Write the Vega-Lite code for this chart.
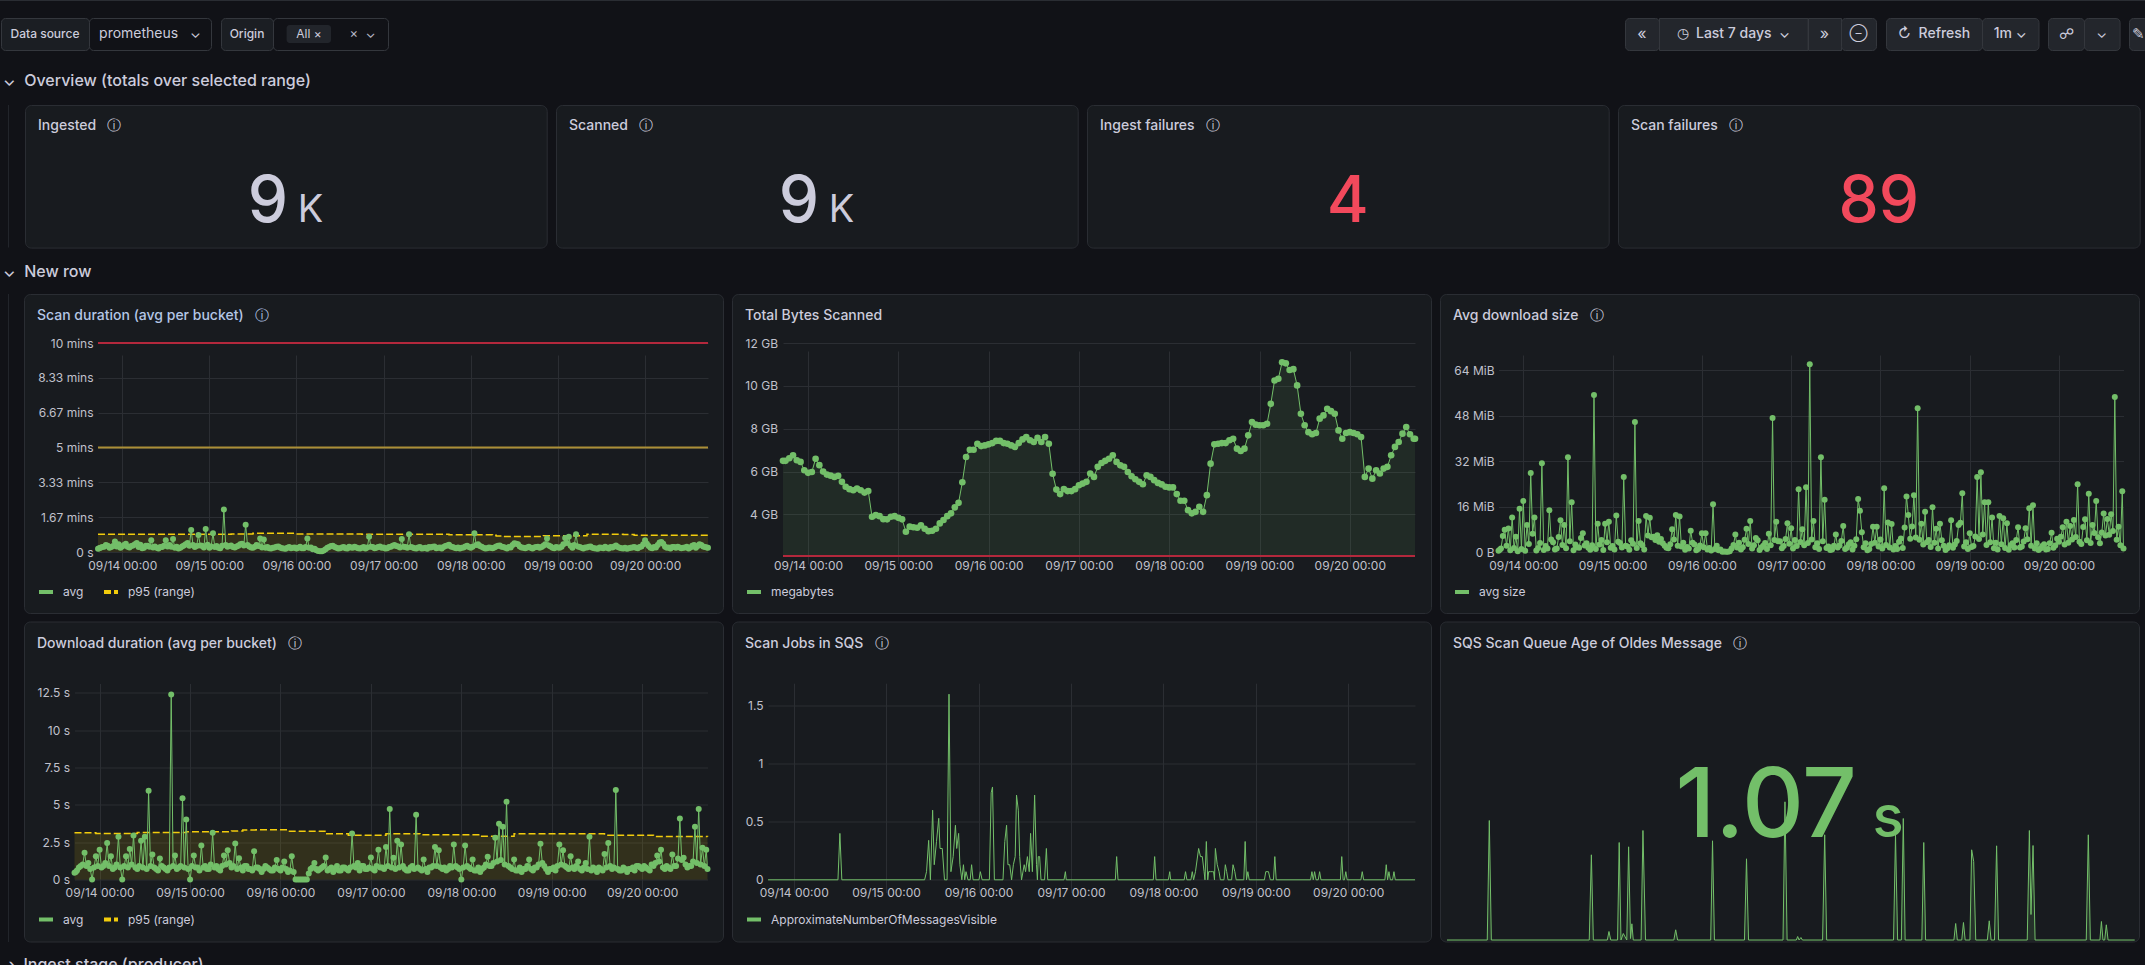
{
"$schema":"https://vega.github.io/schema/vega-lite/v5.json",
"background":"#111217",
"padding":0,
"config":{
"font":"Inter",
"view":{"fill":"#181b1f","stroke":"#2a2d33","cornerRadius":6},
"axis":{"domain":false,"ticks":false,"title":null,"labelColor":"#c0c1cc","labelFont":"Inter","labelFontSize":12,"gridColor":"#2b2e33","gridWidth":1,"labelOverlap":false,"labelFlush":false},
"legend":{"orient":"none","legendX":13,"legendY":289,"title":null,"direction":"horizontal","columns":2,"columnPadding":12,"symbolType":"stroke","symbolStrokeWidth":4,"symbolSize":196,"labelColor":"#ccccdc","labelFont":"Inter","labelFontSize":12,"labelOffset":8,"labelLimit":400},
"title":{"font":"Inter","fontSize":14,"fontWeight":500,"color":"#ccccdc","anchor":"start","frame":"group","baseline":"alphabetic","offset":-29,"dx":13},
"text":{"baseline":"middle","align":"center","font":"Inter"}
},
"datasets":{
"hourly":[
{"t":"2025-09-13T17:20Z","s":9,"d":0.45,"m":0.4,"b":6.5},{"t":"2025-09-13T17:40Z","s":11,"d":0.5,"m":0.8},
{"t":"2025-09-13T18:00Z","s":12,"d":0.6,"m":1.2,"b":6.5},{"t":"2025-09-13T18:30Z","s":14,"d":0.8,"m":5.6},
{"t":"2025-09-13T19:00Z","s":15,"d":0.9,"m":7.8,"b":6.62},{"t":"2025-09-13T19:30Z","s":20,"d":1,"m":2.2},
{"t":"2025-09-13T20:00Z","s":18,"d":1.8,"m":8.3,"b":6.76},{"t":"2025-09-13T20:30Z","s":12,"d":0.9,"m":0.6},
{"t":"2025-09-13T21:00Z","s":14,"d":1.1,"m":12.2,"b":6.53},{"t":"2025-09-13T21:30Z","s":17,"d":0.7,"m":1.4},
{"t":"2025-09-13T22:00Z","s":30,"d":0,"m":5.4,"b":6.45},{"t":"2025-09-13T22:30Z","s":16,"d":0.8,"m":0.3},
{"t":"2025-09-13T23:00Z","s":22,"d":1.56,"m":15.2,"b":6.06},{"t":"2025-09-13T23:30Z","s":12,"d":0.9,"m":1.1},
{"t":"2025-09-14T00:00Z","s":16,"d":2,"m":18,"b":5.94},{"t":"2025-09-14T00:30Z","s":20,"d":0.8,"m":0.4},
{"t":"2025-09-14T01:00Z","s":24,"d":0.9,"m":9.5,"b":5.98},{"t":"2025-09-14T01:30Z","s":15,"d":1.1,"m":2.8},
{"t":"2025-09-14T02:00Z","s":13,"d":2.45,"m":27.8,"b":6.6},{"t":"2025-09-14T02:30Z","s":17,"d":0.9,"m":6.4},
{"t":"2025-09-14T03:00Z","s":19,"d":1.56,"m":12.2,"b":6.3},{"t":"2025-09-14T03:30Z","s":22,"d":0.7,"m":0.5},
{"t":"2025-09-14T04:00Z","s":26,"d":0.8,"m":1.4,"b":6},{"t":"2025-09-14T04:30Z","s":14,"d":1,"m":3.2},
{"t":"2025-09-14T05:00Z","s":21,"d":2.86,"m":31.3,"b":5.86},{"t":"2025-09-14T05:30Z","s":11,"d":0.8,"m":0.7},
{"t":"2025-09-14T06:00Z","s":12,"d":0,"m":2.1,"b":5.81},{"t":"2025-09-14T06:30Z","s":18,"d":0.9,"m":1.2},
{"t":"2025-09-14T07:00Z","s":18,"d":1.56,"m":14.7,"b":5.75},{"t":"2025-09-14T07:30Z","s":15,"d":0.8,"m":4.4},
{"t":"2025-09-14T08:00Z","s":34,"d":2.05,"m":3.4,"b":5.8},{"t":"2025-09-14T08:30Z","s":13,"d":1,"m":0.9},
{"t":"2025-09-14T09:00Z","s":16,"d":2.95,"m":1.2,"b":5.52},{"t":"2025-09-14T09:30Z","s":12,"d":0.8,"m":5.3},
{"t":"2025-09-14T10:00Z","s":10,"d":0.7,"m":11.2,"b":5.29},{"t":"2025-09-14T10:30Z","s":14,"d":0.9,"m":2.5},
{"t":"2025-09-14T11:00Z","s":14,"d":2.6,"m":9.5,"b":5.18},{"t":"2025-09-14T11:30Z","s":18,"d":0.8,"m":1.3},
{"t":"2025-09-14T12:00Z","s":34,"d":2.86,"m":33.4,"b":5.13},{"t":"2025-09-14T12:30Z","s":16,"d":0.7,"m":3.8},
{"t":"2025-09-14T13:00Z","s":20,"d":5.94,"m":17.5,"b":5.21},{"t":"2025-09-14T13:30Z","s":15,"d":0.9,"m":0.6},
{"t":"2025-09-14T14:00Z","s":37,"d":1.67,"m":2.6,"b":5.13},{"t":"2025-09-14T14:30Z","s":12,"d":0.8,"m":1.7},
{"t":"2025-09-14T15:00Z","s":15,"d":0.7,"m":1.5,"b":5.02},{"t":"2025-09-14T15:30Z","s":10,"d":0.6,"m":4.9},
{"t":"2025-09-14T16:00Z","s":12,"d":1.4,"m":6.6,"b":5.09},{"t":"2025-09-14T16:30Z","s":16,"d":0.9,"m":2.3},
{"t":"2025-09-14T17:00Z","s":19,"d":0.8,"m":3.1,"b":3.89},{"t":"2025-09-14T17:30Z","s":22,"d":0.7,"m":1.5},
{"t":"2025-09-14T18:00Z","s":26,"d":0.6,"m":0.8,"b":3.97},{"t":"2025-09-14T18:30Z","s":18,"d":0.8,"m":2.4},
{"t":"2025-09-14T19:00Z","s":63,"d":12.4,"m":55.3,"b":3.92},{"t":"2025-09-14T19:30Z","s":20,"d":0.9,"m":1.1},
{"t":"2025-09-14T20:00Z","s":14,"d":1.6,"m":10,"b":3.78},{"t":"2025-09-14T20:30Z","s":17,"d":0.7,"m":2.6},
{"t":"2025-09-14T21:00Z","s":49,"d":0.8,"m":4.2,"b":3.77},{"t":"2025-09-14T21:30Z","s":19,"d":0.9,"m":0.7},
{"t":"2025-09-14T22:00Z","s":18,"d":5.45,"m":10,"b":3.89},{"t":"2025-09-14T22:30Z","s":13,"d":0.8,"m":3.4},
{"t":"2025-09-14T23:00Z","s":66,"d":4.02,"m":10.7,"b":3.92},{"t":"2025-09-14T23:30Z","s":21,"d":0.7,"m":1.5},
{"t":"2025-09-15T00:00Z","s":12,"d":0,"m":2.1,"b":3.84},{"t":"2025-09-15T00:30Z","s":16,"d":0.9,"m":0.9},
{"t":"2025-09-15T01:00Z","s":54,"d":1.6,"m":12.9,"b":3.77},{"t":"2025-09-15T01:30Z","s":14,"d":0.8,"m":3.6},
{"t":"2025-09-15T02:00Z","s":17,"d":0.8,"m":3.2,"b":3.19},{"t":"2025-09-15T02:30Z","s":12,"d":0.6,"m":1.6},
{"t":"2025-09-15T03:00Z","s":11,"d":2.28,"m":26.4,"b":3.43},{"t":"2025-09-15T03:30Z","s":18,"d":0.8,"m":2.2},
{"t":"2025-09-15T04:00Z","s":122,"d":0.9,"m":1.9,"b":3.4},{"t":"2025-09-15T04:30Z","s":20,"d":0.7,"m":0.8},
{"t":"2025-09-15T05:00Z","s":15,"d":0.7,"m":4.1,"b":3.38},{"t":"2025-09-15T05:30Z","s":17,"d":1,"m":2.9},
{"t":"2025-09-15T06:00Z","s":19,"d":3.13,"m":45.8,"b":3.49},{"t":"2025-09-15T06:30Z","s":14,"d":0.8,"m":1.4},
{"t":"2025-09-15T07:00Z","s":13,"d":0.9,"m":10.9,"b":3.33},{"t":"2025-09-15T07:30Z","s":16,"d":0.7,"m":3.1},
{"t":"2025-09-15T08:00Z","s":18,"d":0.6,"m":2.4,"b":3.22},{"t":"2025-09-15T08:30Z","s":22,"d":0.9,"m":0.9},
{"t":"2025-09-15T09:00Z","s":24,"d":1.6,"m":12.7,"b":3.24},{"t":"2025-09-15T09:30Z","s":19,"d":1,"m":5.8},
{"t":"2025-09-15T10:00Z","s":78,"d":1.96,"m":12.1,"b":3.33},{"t":"2025-09-15T10:30Z","s":20,"d":1.1,"m":5.2},
{"t":"2025-09-15T11:00Z","s":16,"d":0.8,"m":5.4,"b":3.58},{"t":"2025-09-15T11:30Z","s":13,"d":0.9,"m":4.2},
{"t":"2025-09-15T12:00Z","s":12,"d":2.41,"m":5.9,"b":3.74},{"t":"2025-09-15T12:30Z","s":15,"d":0.7,"m":3.6},
{"t":"2025-09-15T13:00Z","s":20,"d":1.43,"m":4.6,"b":3.92},{"t":"2025-09-15T13:30Z","s":17,"d":0.8,"m":3.1},
{"t":"2025-09-15T14:00Z","s":39,"d":0.6,"m":2.2,"b":4.05},{"t":"2025-09-15T14:30Z","s":13,"d":0.9,"m":1.5},
{"t":"2025-09-15T15:00Z","s":36,"d":0.9,"m":1.3,"b":4.33},{"t":"2025-09-15T15:30Z","s":12,"d":0.7,"m":2.7},
{"t":"2025-09-15T16:00Z","s":14,"d":0.7,"m":8,"b":4.54},{"t":"2025-09-15T16:30Z","s":11,"d":0.6,"m":4.4},
{"t":"2025-09-15T17:00Z","s":10,"d":1.9,"m":13,"b":5.5},{"t":"2025-09-15T17:30Z","s":12,"d":0.8,"m":2.2},
{"t":"2025-09-15T18:00Z","s":13,"d":0.8,"m":12.5,"b":6.68},{"t":"2025-09-15T18:30Z","s":15,"d":0.7,"m":1.9},
{"t":"2025-09-15T19:00Z","s":16,"d":0.5,"m":3.3,"b":7.02},{"t":"2025-09-15T19:30Z","s":13,"d":0.7,"m":0.8},
{"t":"2025-09-15T20:00Z","s":11,"d":0.9,"m":1.8,"b":7.02},{"t":"2025-09-15T20:30Z","s":10,"d":0.8,"m":1.2},
{"t":"2025-09-15T21:00Z","s":9,"d":0.7,"m":7.5,"b":7.3},{"t":"2025-09-15T21:30Z","s":12,"d":0.6,"m":3.3},
{"t":"2025-09-15T22:00Z","s":14,"d":0.6,"m":2.6,"b":7.19},{"t":"2025-09-15T22:30Z","s":11,"d":0.8,"m":0.6},
{"t":"2025-09-15T23:00Z","s":12,"d":1.3,"m":1.1,"b":7.22},{"t":"2025-09-15T23:30Z","s":13,"d":0.7,"m":2.3},
{"t":"2025-09-16T00:00Z","s":10,"d":0.6,"m":6.6,"b":7.27},{"t":"2025-09-16T00:30Z","s":12,"d":0.8,"m":1.7},
{"t":"2025-09-16T01:00Z","s":15,"d":1.2,"m":6.6,"b":7.33},{"t":"2025-09-16T01:30Z","s":11,"d":0.7,"m":0.9},
{"t":"2025-09-16T02:00Z","s":11,"d":0.5,"m":1.4,"b":7.43},{"t":"2025-09-16T02:30Z","s":14,"d":0.6,"m":0.5},
{"t":"2025-09-16T03:00Z","s":39,"d":1.56,"m":16.8,"b":7.43},{"t":"2025-09-16T03:30Z","s":12,"d":0.5,"m":1.1},
{"t":"2025-09-16T04:00Z","s":13,"d":0,"m":2.2,"b":7.33},{"t":"2025-09-16T04:30Z","s":8,"d":0,"m":0.6},
{"t":"2025-09-16T05:00Z","s":9,"d":0,"m":0.9,"b":7.3},{"t":"2025-09-16T05:30Z","s":5,"d":0,"m":0.1},
{"t":"2025-09-16T06:00Z","s":3,"d":0,"m":0.2,"b":7.22},{"t":"2025-09-16T06:30Z","s":2,"d":0,"m":0.1},
{"t":"2025-09-16T07:00Z","s":2,"d":0,"m":0.1,"b":7.15},{"t":"2025-09-16T07:30Z","s":4,"d":0.4,"m":0.3},
{"t":"2025-09-16T08:00Z","s":8,"d":0.7,"m":1.2,"b":7.33},{"t":"2025-09-16T08:30Z","s":12,"d":0.8,"m":2.5},
{"t":"2025-09-16T09:00Z","s":14,"d":1.1,"m":6.2,"b":7.5},{"t":"2025-09-16T09:30Z","s":17,"d":0.7,"m":1.6},
{"t":"2025-09-16T10:00Z","s":18,"d":0.6,"m":3.3,"b":7.61},{"t":"2025-09-16T10:30Z","s":14,"d":0.7,"m":0.9},
{"t":"2025-09-16T11:00Z","s":12,"d":0.8,"m":1.7,"b":7.46},{"t":"2025-09-16T11:30Z","s":10,"d":0.9,"m":4.3},
{"t":"2025-09-16T12:00Z","s":11,"d":1.47,"m":8.2,"b":7.38},{"t":"2025-09-16T12:30Z","s":13,"d":0.6,"m":2.8},
{"t":"2025-09-16T13:00Z","s":14,"d":0.7,"m":10.9,"b":7.57},{"t":"2025-09-16T13:30Z","s":11,"d":0.8,"m":1.2},
{"t":"2025-09-16T14:00Z","s":10,"d":0.5,"m":2.4,"b":7.38},{"t":"2025-09-16T14:30Z","s":15,"d":0.7,"m":4.9},
{"t":"2025-09-16T15:00Z","s":13,"d":0.9,"m":4.1,"b":7.61},{"t":"2025-09-16T15:30Z","s":12,"d":0.6,"m":0.7},
{"t":"2025-09-16T16:00Z","s":15,"d":0.6,"m":1.6,"b":7.3},{"t":"2025-09-16T16:30Z","s":13,"d":0.8,"m":2.2},
{"t":"2025-09-16T17:00Z","s":11,"d":0.8,"m":3.2,"b":5.9},{"t":"2025-09-16T17:30Z","s":10,"d":0.7,"m":1.1},
{"t":"2025-09-16T18:00Z","s":12,"d":0.6,"m":6.4,"b":5.16},{"t":"2025-09-16T18:30Z","s":14,"d":0.8,"m":2.4},
{"t":"2025-09-16T19:00Z","s":10,"d":3.08,"m":47.2,"b":4.95},{"t":"2025-09-16T19:30Z","s":13,"d":0.9,"m":4.2},
{"t":"2025-09-16T20:00Z","s":44,"d":0.8,"m":10.7,"b":5.18},{"t":"2025-09-16T20:30Z","s":15,"d":1.1,"m":3.8},
{"t":"2025-09-16T21:00Z","s":14,"d":0.6,"m":3.8,"b":5.09},{"t":"2025-09-16T21:30Z","s":11,"d":0.9,"m":1.3},
{"t":"2025-09-16T22:00Z","s":12,"d":0.9,"m":2.1,"b":5.09},{"t":"2025-09-16T22:30Z","s":14,"d":0.7,"m":4.6},
{"t":"2025-09-16T23:00Z","s":16,"d":0.7,"m":10.1,"b":5.18},{"t":"2025-09-16T23:30Z","s":12,"d":0.8,"m":2.9},
{"t":"2025-09-17T00:00Z","s":13,"d":1.47,"m":8.4,"b":5.36},{"t":"2025-09-17T00:30Z","s":10,"d":0.7,"m":1.2},
{"t":"2025-09-17T01:00Z","s":11,"d":0.6,"m":4.2,"b":5.44},{"t":"2025-09-17T01:30Z","s":14,"d":0.9,"m":2.1},
{"t":"2025-09-17T02:00Z","s":15,"d":2,"m":22.1,"b":5.52},{"t":"2025-09-17T02:30Z","s":18,"d":0.8,"m":3.5},
{"t":"2025-09-17T03:00Z","s":20,"d":0.8,"m":8,"b":5.91},{"t":"2025-09-17T03:30Z","s":17,"d":0.7,"m":2.4},
{"t":"2025-09-17T04:00Z","s":16,"d":2.17,"m":22.8,"b":5.75},{"t":"2025-09-17T04:30Z","s":13,"d":0.9,"m":3.2},
{"t":"2025-09-17T05:00Z","s":37,"d":4.73,"m":66.2,"b":6.22},{"t":"2025-09-17T05:30Z","s":15,"d":0.8,"m":4.4},
{"t":"2025-09-17T06:00Z","s":14,"d":1.45,"m":10.9,"b":6.4},{"t":"2025-09-17T06:30Z","s":12,"d":0.7,"m":1.7},
{"t":"2025-09-17T07:00Z","s":51,"d":2.6,"m":3.1,"b":6.5},{"t":"2025-09-17T07:30Z","s":14,"d":0.8,"m":1.1},
{"t":"2025-09-17T08:00Z","s":13,"d":2.34,"m":33.4,"b":6.6},{"t":"2025-09-17T08:30Z","s":11,"d":0.9,"m":3.8},
{"t":"2025-09-17T09:00Z","s":10,"d":0.7,"m":18.4,"b":6.76},{"t":"2025-09-17T09:30Z","s":13,"d":0.6,"m":1.4},
{"t":"2025-09-17T10:00Z","s":14,"d":0.6,"m":1.9,"b":6.45},{"t":"2025-09-17T10:30Z","s":10,"d":0.8,"m":0.7},
{"t":"2025-09-17T11:00Z","s":11,"d":0.9,"m":0.9,"b":6.29},{"t":"2025-09-17T11:30Z","s":12,"d":0.7,"m":2.2},
{"t":"2025-09-17T12:00Z","s":9,"d":4.33,"m":6.2,"b":6.22},{"t":"2025-09-17T12:30Z","s":14,"d":0.8,"m":1.6},
{"t":"2025-09-17T13:00Z","s":13,"d":0.7,"m":2.3,"b":5.98},{"t":"2025-09-17T13:30Z","s":15,"d":0.6,"m":3.9},
{"t":"2025-09-17T14:00Z","s":16,"d":1.34,"m":9.2,"b":5.78},{"t":"2025-09-17T14:30Z","s":11,"d":0.7,"m":1.1},
{"t":"2025-09-17T15:00Z","s":12,"d":0.5,"m":1.5,"b":5.64},{"t":"2025-09-17T15:30Z","s":13,"d":0.8,"m":2.7},
{"t":"2025-09-17T16:00Z","s":10,"d":0.8,"m":3.4,"b":5.52},{"t":"2025-09-17T16:30Z","s":14,"d":0.9,"m":0.9},
{"t":"2025-09-17T17:00Z","s":17,"d":2.17,"m":2.2,"b":5.41},{"t":"2025-09-17T17:30Z","s":19,"d":0.9,"m":4.5},
{"t":"2025-09-17T18:00Z","s":21,"d":1.96,"m":18.7,"b":5.83},{"t":"2025-09-17T18:30Z","s":16,"d":0.8,"m":14.5},
{"t":"2025-09-17T19:00Z","s":14,"d":0.7,"m":7,"b":5.75},{"t":"2025-09-17T19:30Z","s":12,"d":0.8,"m":1.7},
{"t":"2025-09-17T20:00Z","s":11,"d":0.6,"m":3.1,"b":5.6},{"t":"2025-09-17T20:30Z","s":13,"d":0.7,"m":0.6},
{"t":"2025-09-17T21:00Z","s":10,"d":0.9,"m":1.1,"b":5.47},{"t":"2025-09-17T21:30Z","s":12,"d":0.8,"m":2.8},
{"t":"2025-09-17T22:00Z","s":13,"d":2.34,"m":8.9,"b":5.4},{"t":"2025-09-17T22:30Z","s":16,"d":0.9,"m":3.3},
{"t":"2025-09-17T23:00Z","s":18,"d":0.8,"m":8.9,"b":5.29},{"t":"2025-09-17T23:30Z","s":14,"d":0.7,"m":1.9},
{"t":"2025-09-18T00:00Z","s":12,"d":0,"m":4.4,"b":5.26},{"t":"2025-09-18T00:30Z","s":15,"d":0.8,"m":1.2},
{"t":"2025-09-18T01:00Z","s":54,"d":2.28,"m":22.5,"b":5.26},{"t":"2025-09-18T01:30Z","s":20,"d":0.9,"m":2.5},
{"t":"2025-09-18T02:00Z","s":22,"d":0.8,"m":10.4,"b":4.95},{"t":"2025-09-18T02:30Z","s":17,"d":0.7,"m":1.6},
{"t":"2025-09-18T03:00Z","s":15,"d":1.34,"m":9.9,"b":4.64},{"t":"2025-09-18T03:30Z","s":12,"d":0.6,"m":0.9},
{"t":"2025-09-18T04:00Z","s":10,"d":0.6,"m":2.1,"b":4.64},{"t":"2025-09-18T04:30Z","s":11,"d":0.8,"m":1.1},
{"t":"2025-09-18T05:00Z","s":13,"d":0.5,"m":3.6,"b":4.2},{"t":"2025-09-18T05:30Z","s":12,"d":0.7,"m":4.8},
{"t":"2025-09-18T06:00Z","s":11,"d":0.8,"m":1.4,"b":4.05},{"t":"2025-09-18T06:30Z","s":13,"d":1,"m":8.6},
{"t":"2025-09-18T07:00Z","s":16,"d":1.52,"m":19.6,"b":4.12},{"t":"2025-09-18T07:30Z","s":18,"d":0.9,"m":13},
{"t":"2025-09-18T08:00Z","s":19,"d":0.9,"m":4.7,"b":4.36},{"t":"2025-09-18T08:30Z","s":15,"d":1.1,"m":9},
{"t":"2025-09-18T09:00Z","s":14,"d":2.8,"m":20,"b":4.12},{"t":"2025-09-18T09:30Z","s":12,"d":1.2,"m":5.1},
{"t":"2025-09-18T10:00Z","s":10,"d":3.73,"m":50.7,"b":4.9},{"t":"2025-09-18T10:30Z","s":14,"d":1.3,"m":4.3},
{"t":"2025-09-18T11:00Z","s":13,"d":3.53,"m":10,"b":6.37},{"t":"2025-09-18T11:30Z","s":20,"d":1,"m":2.6},
{"t":"2025-09-18T12:00Z","s":25,"d":5.2,"m":14.2,"b":7.27},{"t":"2025-09-18T12:30Z","s":24,"d":0.9,"m":3.4},
{"t":"2025-09-18T13:00Z","s":22,"d":0.8,"m":4.2,"b":7.3},{"t":"2025-09-18T13:30Z","s":16,"d":0.7,"m":1.8},
{"t":"2025-09-18T14:00Z","s":13,"d":1.34,"m":15.8,"b":7.33},{"t":"2025-09-18T14:30Z","s":12,"d":0.6,"m":3.3},
{"t":"2025-09-18T15:00Z","s":11,"d":0.6,"m":8.2,"b":7.33},{"t":"2025-09-18T15:30Z","s":13,"d":0.8,"m":1.2},
{"t":"2025-09-18T16:00Z","s":15,"d":0.5,"m":10,"b":7.46},{"t":"2025-09-18T16:30Z","s":12,"d":0.7,"m":4.1},
{"t":"2025-09-18T17:00Z","s":10,"d":0.7,"m":2.2,"b":7.53},{"t":"2025-09-18T17:30Z","s":13,"d":0.9,"m":0.7},
{"t":"2025-09-18T18:00Z","s":14,"d":1.34,"m":1.3,"b":7.07},{"t":"2025-09-18T18:30Z","s":15,"d":0.7,"m":2.4},
{"t":"2025-09-18T19:00Z","s":12,"d":0.6,"m":11.2,"b":6.96},{"t":"2025-09-18T19:30Z","s":14,"d":0.8,"m":1.5},
{"t":"2025-09-18T20:00Z","s":18,"d":0.8,"m":2.6,"b":7.07},{"t":"2025-09-18T20:30Z","s":22,"d":1,"m":3.9},
{"t":"2025-09-18T21:00Z","s":39,"d":2.39,"m":9.5,"b":7.69},{"t":"2025-09-18T21:30Z","s":19,"d":1.1,"m":10.3},
{"t":"2025-09-18T22:00Z","s":16,"d":0.9,"m":20.7,"b":8.31},{"t":"2025-09-18T22:30Z","s":12,"d":0.7,"m":1.9},
{"t":"2025-09-18T23:00Z","s":11,"d":0.5,"m":3.4,"b":8.19},{"t":"2025-09-18T23:30Z","s":14,"d":0.7,"m":1.1},
{"t":"2025-09-19T00:00Z","s":13,"d":0.7,"m":6.6,"b":8.16},{"t":"2025-09-19T00:30Z","s":12,"d":0.8,"m":1.8},
{"t":"2025-09-19T01:00Z","s":15,"d":0.6,"m":2.1,"b":8.16},{"t":"2025-09-19T01:30Z","s":22,"d":0.9,"m":5.5},
{"t":"2025-09-19T02:00Z","s":40,"d":2.34,"m":26.4,"b":8.23},{"t":"2025-09-19T02:30Z","s":26,"d":1,"m":4.6},
{"t":"2025-09-19T03:00Z","s":44,"d":1.96,"m":28.1,"b":9.16},{"t":"2025-09-19T03:30Z","s":18,"d":0.9,"m":6.2},
{"t":"2025-09-19T04:00Z","s":12,"d":0.8,"m":17.5,"b":10.25},{"t":"2025-09-19T04:30Z","s":20,"d":0.7,"m":2.5},
{"t":"2025-09-19T05:00Z","s":51,"d":1.56,"m":17.5,"b":10.33},{"t":"2025-09-19T05:30Z","s":16,"d":0.8,"m":3.4},
{"t":"2025-09-19T06:00Z","s":14,"d":0.7,"m":12.2,"b":11.1},{"t":"2025-09-19T06:30Z","s":12,"d":0.9,"m":1.3},
{"t":"2025-09-19T07:00Z","s":10,"d":1.2,"m":3.3,"b":11.05},{"t":"2025-09-19T07:30Z","s":13,"d":0.7,"m":0.9},
{"t":"2025-09-19T08:00Z","s":13,"d":0.6,"m":12.7,"b":10.74},{"t":"2025-09-19T08:30Z","s":15,"d":0.8,"m":2.7},
{"t":"2025-09-19T09:00Z","s":16,"d":1.1,"m":11.9,"b":10.78},{"t":"2025-09-19T09:30Z","s":12,"d":0.7,"m":1.4},
{"t":"2025-09-19T10:00Z","s":11,"d":2.86,"m":10.1,"b":10.02},{"t":"2025-09-19T10:30Z","s":10,"d":0.6,"m":0.8},
{"t":"2025-09-19T11:00Z","s":9,"d":0.8,"m":2.4,"b":8.7},{"t":"2025-09-19T11:30Z","s":13,"d":0.7,"m":3.1},
{"t":"2025-09-19T12:00Z","s":12,"d":0.5,"m":1.6,"b":8.16},{"t":"2025-09-19T12:30Z","s":11,"d":0.8,"m":4.2},
{"t":"2025-09-19T13:00Z","s":15,"d":0.7,"m":8.7,"b":7.84},{"t":"2025-09-19T13:30Z","s":12,"d":0.6,"m":1.6},
{"t":"2025-09-19T14:00Z","s":10,"d":1.7,"m":1.9,"b":7.74},{"t":"2025-09-19T14:30Z","s":14,"d":0.8,"m":3.7},
{"t":"2025-09-19T15:00Z","s":13,"d":2.45,"m":8.4,"b":7.8},{"t":"2025-09-19T15:30Z","s":16,"d":0.9,"m":4.5},
{"t":"2025-09-19T16:00Z","s":19,"d":0.7,"m":15.4,"b":8.47},{"t":"2025-09-19T16:30Z","s":14,"d":0.8,"m":2.2},
{"t":"2025-09-19T17:00Z","s":12,"d":6,"m":16.5,"b":8.62},{"t":"2025-09-19T17:30Z","s":11,"d":0.7,"m":1.2},
{"t":"2025-09-19T18:00Z","s":10,"d":0.6,"m":3.1,"b":8.93},{"t":"2025-09-19T18:30Z","s":12,"d":0.6,"m":0.7},
{"t":"2025-09-19T19:00Z","s":9,"d":0.8,"m":1.2,"b":8.82},{"t":"2025-09-19T19:30Z","s":11,"d":0.7,"m":2.1},
{"t":"2025-09-19T20:00Z","s":12,"d":0.5,"m":2.7,"b":8.7},{"t":"2025-09-19T20:30Z","s":13,"d":0.7,"m":0.9},
{"t":"2025-09-19T21:00Z","s":14,"d":0.7,"m":1.1,"b":7.92},{"t":"2025-09-19T21:30Z","s":12,"d":0.8,"m":3.1},
{"t":"2025-09-19T22:00Z","s":11,"d":0.6,"m":6.8,"b":7.53},{"t":"2025-09-19T22:30Z","s":14,"d":0.9,"m":1.5},
{"t":"2025-09-19T23:00Z","s":16,"d":0.9,"m":2.3,"b":7.8},{"t":"2025-09-19T23:30Z","s":22,"d":0.8,"m":4.7},
{"t":"2025-09-20T00:00Z","s":34,"d":0.7,"m":3.6,"b":7.84},{"t":"2025-09-20T00:30Z","s":24,"d":0.9,"m":5.4},
{"t":"2025-09-20T01:00Z","s":17,"d":0.8,"m":8.7,"b":7.8},{"t":"2025-09-20T01:30Z","s":12,"d":0.7,"m":2.6},
{"t":"2025-09-20T02:00Z","s":11,"d":0.6,"m":10.7,"b":7.74},{"t":"2025-09-20T02:30Z","s":14,"d":1,"m":3.3},
{"t":"2025-09-20T03:00Z","s":13,"d":0.9,"m":9.2,"b":7.61},{"t":"2025-09-20T03:30Z","s":20,"d":1.1,"m":4.4},
{"t":"2025-09-20T04:00Z","s":27,"d":1.6,"m":11.3,"b":5.75},{"t":"2025-09-20T04:30Z","s":29,"d":1.2,"m":5.3},
{"t":"2025-09-20T05:00Z","s":24,"d":2,"m":23.9,"b":6.14},{"t":"2025-09-20T05:30Z","s":15,"d":0.8,"m":3.6},
{"t":"2025-09-20T06:00Z","s":12,"d":0.7,"m":2.8,"b":5.67},{"t":"2025-09-20T06:30Z","s":13,"d":0.9,"m":8.8},
{"t":"2025-09-20T07:00Z","s":10,"d":0.8,"m":11.5,"b":6.06},{"t":"2025-09-20T07:30Z","s":14,"d":0.7,"m":4.1},
{"t":"2025-09-20T08:00Z","s":14,"d":1.67,"m":20.5,"b":5.91},{"t":"2025-09-20T08:30Z","s":12,"d":0.9,"m":3.2},
{"t":"2025-09-20T09:00Z","s":15,"d":0.9,"m":9.5,"b":6.14},{"t":"2025-09-20T09:30Z","s":13,"d":1.4,"m":6.7},
{"t":"2025-09-20T10:00Z","s":11,"d":4.08,"m":18,"b":6.22},{"t":"2025-09-20T10:30Z","s":12,"d":1.3,"m":5.2},
{"t":"2025-09-20T11:00Z","s":13,"d":1.45,"m":3.1,"b":6.76},{"t":"2025-09-20T11:30Z","s":15,"d":1,"m":6.9},
{"t":"2025-09-20T12:00Z","s":10,"d":0.8,"m":13.6,"b":7.15},{"t":"2025-09-20T12:30Z","s":13,"d":0.9,"m":5.8},
{"t":"2025-09-20T13:00Z","s":18,"d":0.9,"m":11.6,"b":7.38},{"t":"2025-09-20T13:30Z","s":20,"d":1.2,"m":6.1},
{"t":"2025-09-20T14:00Z","s":12,"d":3.53,"m":13.3,"b":7.77},{"t":"2025-09-20T14:30Z","s":17,"d":1.1,"m":7.4},
{"t":"2025-09-20T15:00Z","s":22,"d":4.73,"m":54.6,"b":8.08},{"t":"2025-09-20T15:30Z","s":20,"d":1,"m":4.3},
{"t":"2025-09-20T16:00Z","s":16,"d":2.12,"m":8.9,"b":7.74},{"t":"2025-09-20T16:30Z","s":14,"d":0.9,"m":2.4},
{"t":"2025-09-20T17:00Z","s":13,"d":2,"m":21.4,"b":7.53},
{"t":"2025-09-20T17:20Z","s":12,"d":0.7,"m":1.2,"b":7.53}
],
"scanP95":[
{"t":"2025-09-13T17:20Z","v":50.7},{"t":"2025-09-15T06:00Z","v":52},{"t":"2025-09-15T12:00Z","v":53.5},{"t":"2025-09-16T00:00Z","v":52},{"t":"2025-09-16T18:00Z","v":51},{"t":"2025-09-17T12:00Z","v":50.7},{"t":"2025-09-17T18:00Z","v":49.7},{"t":"2025-09-18T06:00Z","v":48},{"t":"2025-09-18T07:00Z","v":46},{"t":"2025-09-18T09:00Z","v":44.5},{"t":"2025-09-18T20:00Z","v":47},{"t":"2025-09-19T08:00Z","v":50.7},{"t":"2025-09-19T18:00Z","v":50},{"t":"2025-09-19T21:00Z","v":48},{"t":"2025-09-20T17:20Z","v":47}
],
"downloadP95":[
{"t":"2025-09-13T17:20Z","v":3.13},{"t":"2025-09-13T23:00Z","v":3.08},{"t":"2025-09-14T10:00Z","v":3.15},{"t":"2025-09-14T23:00Z","v":3.2},{"t":"2025-09-15T11:00Z","v":3.25},{"t":"2025-09-15T14:00Z","v":3.31},{"t":"2025-09-15T17:30Z","v":3.33},{"t":"2025-09-16T02:00Z","v":3.24},{"t":"2025-09-16T12:00Z","v":3.06},{"t":"2025-09-16T18:00Z","v":2.97},{"t":"2025-09-17T04:00Z","v":3.06},{"t":"2025-09-17T13:00Z","v":3},{"t":"2025-09-18T05:00Z","v":2.9},{"t":"2025-09-18T14:00Z","v":3.06},{"t":"2025-09-19T02:00Z","v":3.06},{"t":"2025-09-19T14:00Z","v":2.97},{"t":"2025-09-20T03:00Z","v":2.88},{"t":"2025-09-20T17:20Z","v":2.86}
],
"scanLimits":[
{"from":"2025-09-13T17:20Z","to":"2025-09-20T17:20Z","limit":600,"kind":"critical"},
{"from":"2025-09-13T17:20Z","to":"2025-09-20T17:20Z","limit":300,"kind":"warning"}
],
"bytesLimit":[{"from":"2025-09-13T17:20Z","to":"2025-09-20T17:20Z","limit":2.06}],
"jobs":[
{"t":"2025-09-13T17:20Z","v":0},{"t":"2025-09-14T11:30Z","v":0},{"t":"2025-09-14T12:00Z","v":0.4},{"t":"2025-09-14T12:30Z","v":0},{"t":"2025-09-15T10:00Z","v":0},{"t":"2025-09-15T10:30Z","v":0.07},{"t":"2025-09-15T11:03Z","v":0.34},{"t":"2025-09-15T11:30Z","v":0},{"t":"2025-09-15T12:05Z","v":0.6},{"t":"2025-09-15T12:30Z","v":0.13},{"t":"2025-09-15T13:05Z","v":0.33},{"t":"2025-09-15T13:40Z","v":0.53},{"t":"2025-09-15T14:00Z","v":0.27},{"t":"2025-09-15T14:35Z","v":0.27},{"t":"2025-09-15T15:10Z","v":0},{"t":"2025-09-15T15:50Z","v":0},{"t":"2025-09-15T16:20Z","v":1.6},{"t":"2025-09-15T16:50Z","v":0.07},{"t":"2025-09-15T17:25Z","v":0.2},{"t":"2025-09-15T18:00Z","v":0.47},{"t":"2025-09-15T18:20Z","v":0.27},{"t":"2025-09-15T18:50Z","v":0.4},{"t":"2025-09-15T19:10Z","v":0.13},{"t":"2025-09-15T19:40Z","v":0},{"t":"2025-09-15T20:05Z","v":0.13},{"t":"2025-09-15T20:25Z","v":0},{"t":"2025-09-15T20:45Z","v":0.07},{"t":"2025-09-15T21:15Z","v":0},{"t":"2025-09-15T21:50Z","v":0},{"t":"2025-09-15T22:12Z","v":0.13},{"t":"2025-09-15T22:35Z","v":0},{"t":"2025-09-16T00:07Z","v":0},{"t":"2025-09-16T00:28Z","v":0.07},{"t":"2025-09-16T00:56Z","v":0},{"t":"2025-09-16T02:49Z","v":0},{"t":"2025-09-16T03:17Z","v":0.75},{"t":"2025-09-16T03:38Z","v":0.8},{"t":"2025-09-16T04:07Z","v":0},{"t":"2025-09-16T06:21Z","v":0},{"t":"2025-09-16T06:49Z","v":0.33},{"t":"2025-09-16T07:17Z","v":0.47},{"t":"2025-09-16T07:38Z","v":0.13},{"t":"2025-09-16T08:06Z","v":0.13},{"t":"2025-09-16T08:35Z","v":0},{"t":"2025-09-16T09:03Z","v":0.13},{"t":"2025-09-16T09:31Z","v":0.2},{"t":"2025-09-16T09:52Z","v":0.73},{"t":"2025-09-16T10:20Z","v":0.6},{"t":"2025-09-16T10:41Z","v":0.2},{"t":"2025-09-16T11:10Z","v":0},{"t":"2025-09-16T11:52Z","v":0.13},{"t":"2025-09-16T12:13Z","v":0.07},{"t":"2025-09-16T12:41Z","v":0.2},{"t":"2025-09-16T13:10Z","v":0.07},{"t":"2025-09-16T13:31Z","v":0.4},{"t":"2025-09-16T13:59Z","v":0.07},{"t":"2025-09-16T14:34Z","v":0.73},{"t":"2025-09-16T15:03Z","v":0.13},{"t":"2025-09-16T15:17Z","v":0},{"t":"2025-09-16T15:31Z","v":0.2},{"t":"2025-09-16T15:52Z","v":0.2},{"t":"2025-09-16T16:13Z","v":0},{"t":"2025-09-16T17:09Z","v":0},{"t":"2025-09-16T17:37Z","v":0.27},{"t":"2025-09-16T17:58Z","v":0},{"t":"2025-09-16T22:12Z","v":0},{"t":"2025-09-16T22:33Z","v":0.07},{"t":"2025-09-16T22:47Z","v":0},{"t":"2025-09-17T11:31Z","v":0},{"t":"2025-09-17T11:52Z","v":0.2},{"t":"2025-09-17T12:13Z","v":0},{"t":"2025-09-17T21:23Z","v":0},{"t":"2025-09-17T21:44Z","v":0.2},{"t":"2025-09-17T22:05Z","v":0},{"t":"2025-09-18T01:18Z","v":0},{"t":"2025-09-18T01:39Z","v":0.07},{"t":"2025-09-18T01:53Z","v":0},{"t":"2025-09-18T05:24Z","v":0},{"t":"2025-09-18T05:45Z","v":0.07},{"t":"2025-09-18T06:06Z","v":0},{"t":"2025-09-18T07:09Z","v":0},{"t":"2025-09-18T07:30Z","v":0.07},{"t":"2025-09-18T07:51Z","v":0},{"t":"2025-09-18T08:20Z","v":0.07},{"t":"2025-09-18T09:09Z","v":0.27},{"t":"2025-09-18T09:38Z","v":0.2},{"t":"2025-09-18T10:06Z","v":0.2},{"t":"2025-09-18T10:34Z","v":0.07},{"t":"2025-09-18T10:48Z","v":0},{"t":"2025-09-18T11:09Z","v":0.33},{"t":"2025-09-18T11:31Z","v":0},{"t":"2025-09-18T11:45Z","v":0.07},{"t":"2025-09-18T12:13Z","v":0.07},{"t":"2025-09-18T12:41Z","v":0.07},{"t":"2025-09-18T13:02Z","v":0.07},{"t":"2025-09-18T13:16Z","v":0},{"t":"2025-09-18T13:30Z","v":0.27},{"t":"2025-09-18T13:59Z","v":0.13},{"t":"2025-09-18T14:27Z","v":0.07},{"t":"2025-09-18T14:48Z","v":0},{"t":"2025-09-18T15:44Z","v":0},{"t":"2025-09-18T16:05Z","v":0.13},{"t":"2025-09-18T16:26Z","v":0.07},{"t":"2025-09-18T16:47Z","v":0},{"t":"2025-09-18T17:43Z","v":0},{"t":"2025-09-18T18:05Z","v":0.13},{"t":"2025-09-18T18:33Z","v":0.07},{"t":"2025-09-18T18:54Z","v":0},{"t":"2025-09-18T20:53Z","v":0},{"t":"2025-09-18T21:14Z","v":0.33},{"t":"2025-09-18T21:35Z","v":0},{"t":"2025-09-18T21:56Z","v":0.07},{"t":"2025-09-18T22:17Z","v":0},{"t":"2025-09-19T02:14Z","v":0},{"t":"2025-09-19T02:35Z","v":0.07},{"t":"2025-09-19T03:17Z","v":0.07},{"t":"2025-09-19T03:46Z","v":0},{"t":"2025-09-19T04:35Z","v":0},{"t":"2025-09-19T04:56Z","v":0.2},{"t":"2025-09-19T05:17Z","v":0},{"t":"2025-09-19T14:13Z","v":0},{"t":"2025-09-19T14:34Z","v":0.07},{"t":"2025-09-19T14:55Z","v":0},{"t":"2025-09-19T15:16Z","v":0.07},{"t":"2025-09-19T15:38Z","v":0},{"t":"2025-09-19T16:13Z","v":0},{"t":"2025-09-19T16:34Z","v":0.07},{"t":"2025-09-19T16:55Z","v":0},{"t":"2025-09-19T21:58Z","v":0},{"t":"2025-09-19T22:19Z","v":0.2},{"t":"2025-09-19T22:40Z","v":0},{"t":"2025-09-19T23:01Z","v":0},{"t":"2025-09-19T23:22Z","v":0.07},{"t":"2025-09-19T23:43Z","v":0},{"t":"2025-09-20T03:17Z","v":0},{"t":"2025-09-20T03:38Z","v":0.07},{"t":"2025-09-20T04:00Z","v":0},{"t":"2025-09-20T09:31Z","v":0},{"t":"2025-09-20T09:52Z","v":0.13},{"t":"2025-09-20T10:13Z","v":0},{"t":"2025-09-20T10:34Z","v":0.07},{"t":"2025-09-20T10:56Z","v":0},{"t":"2025-09-20T11:31Z","v":0},{"t":"2025-09-20T11:52Z","v":0.07},{"t":"2025-09-20T12:13Z","v":0},{"t":"2025-09-20T17:20Z","v":0}
],
"queueAge":[
{"t":"2025-09-13T17:20Z","v":0.5},{"t":"2025-09-14T03:10Z","v":0.5},{"t":"2025-09-14T03:40Z","v":120},{"t":"2025-09-14T04:10Z","v":0.5},{"t":"2025-09-15T04:05Z","v":0.5},{"t":"2025-09-15T04:36Z","v":85.7},{"t":"2025-09-15T05:05Z","v":0.5},{"t":"2025-09-15T08:30Z","v":0.5},{"t":"2025-09-15T08:54Z","v":9},{"t":"2025-09-15T09:20Z","v":0.5},{"t":"2025-09-15T11:00Z","v":0.5},{"t":"2025-09-15T11:24Z","v":98},{"t":"2025-09-15T11:50Z","v":0.5},{"t":"2025-09-15T12:24Z","v":7},{"t":"2025-09-15T13:15Z","v":0.5},{"t":"2025-09-15T13:42Z","v":93.7},{"t":"2025-09-15T14:10Z","v":2},{"t":"2025-09-15T14:30Z","v":16.7},{"t":"2025-09-15T14:50Z","v":0.5},{"t":"2025-09-15T16:45Z","v":0.5},{"t":"2025-09-15T17:12Z","v":110},{"t":"2025-09-15T17:50Z","v":0.5},{"t":"2025-09-16T00:45Z","v":0.5},{"t":"2025-09-16T01:12Z","v":10.7},{"t":"2025-09-16T01:40Z","v":0.5},{"t":"2025-09-16T09:45Z","v":0.5},{"t":"2025-09-16T10:12Z","v":99.7},{"t":"2025-09-16T10:40Z","v":0.5},{"t":"2025-09-16T18:00Z","v":0.5},{"t":"2025-09-16T18:30Z","v":81.7},{"t":"2025-09-16T19:00Z","v":0.5},{"t":"2025-09-17T03:25Z","v":0.5},{"t":"2025-09-17T03:54Z","v":138.7},{"t":"2025-09-17T04:25Z","v":0.5},{"t":"2025-09-17T06:40Z","v":0.5},{"t":"2025-09-17T07:00Z","v":4},{"t":"2025-09-17T07:20Z","v":0.5},{"t":"2025-09-17T07:48Z","v":3},{"t":"2025-09-17T08:10Z","v":0.5},{"t":"2025-09-17T13:05Z","v":0.5},{"t":"2025-09-17T13:36Z","v":105.7},{"t":"2025-09-17T14:05Z","v":0.5},{"t":"2025-09-18T06:25Z","v":0.5},{"t":"2025-09-18T06:54Z","v":105.7},{"t":"2025-09-18T07:25Z","v":0.5},{"t":"2025-09-18T08:20Z","v":0.5},{"t":"2025-09-18T08:48Z","v":122},{"t":"2025-09-18T09:15Z","v":0.5},{"t":"2025-09-18T13:20Z","v":0.5},{"t":"2025-09-18T13:48Z","v":98},{"t":"2025-09-18T14:15Z","v":0.5},{"t":"2025-09-18T21:10Z","v":0.5},{"t":"2025-09-18T21:36Z","v":17},{"t":"2025-09-18T22:00Z","v":0.5},{"t":"2025-09-18T23:05Z","v":0.5},{"t":"2025-09-18T23:30Z","v":18},{"t":"2025-09-18T23:55Z","v":0.5},{"t":"2025-09-19T01:05Z","v":0.5},{"t":"2025-09-19T01:30Z","v":90.7},{"t":"2025-09-19T02:00Z","v":79},{"t":"2025-09-19T02:30Z","v":0.5},{"t":"2025-09-19T05:20Z","v":0.5},{"t":"2025-09-19T05:48Z","v":19.7},{"t":"2025-09-19T06:15Z","v":0.5},{"t":"2025-09-19T07:05Z","v":0.5},{"t":"2025-09-19T07:36Z","v":94.7},{"t":"2025-09-19T08:05Z","v":0.5},{"t":"2025-09-19T15:05Z","v":0.5},{"t":"2025-09-19T15:36Z","v":110},{"t":"2025-09-19T16:00Z","v":26},{"t":"2025-09-19T16:30Z","v":95},{"t":"2025-09-19T17:00Z","v":0.5},{"t":"2025-09-20T05:30Z","v":0.5},{"t":"2025-09-20T06:00Z","v":105.7},{"t":"2025-09-20T06:30Z","v":0.5},{"t":"2025-09-20T08:50Z","v":0.5},{"t":"2025-09-20T09:12Z","v":19},{"t":"2025-09-20T09:35Z","v":0.5},{"t":"2025-09-20T10:00Z","v":0.5},{"t":"2025-09-20T10:24Z","v":15.7},{"t":"2025-09-20T10:50Z","v":0.5},{"t":"2025-09-20T17:20Z","v":0.5}
]
},
"resolve":{"scale":{"color":"independent","strokeDash":"independent"},"legend":{"color":"independent","strokeDash":"independent"}},
"vconcat":[
{"width":2145,"height":1,"data":{"values":[]},"mark":"rect","view":{"fill":"#2a2d33","stroke":null,"cornerRadius":0}},
{"width":2145,"height":16,"data":{"values":[]},"mark":"rect","view":{"fill":null,"stroke":null}},
{"hconcat":[
{"width":1,"height":32,"data":{"values":[]},"mark":"rect","view":{"fill":null,"stroke":null}},
{"width":88,"height":32,"view":{"fill":"#1b1e23","stroke":"#34373d","cornerRadius":4},"data":{"values":[{"label":"Data source"}]},"mark":{"type":"text","fontSize":12,"fontWeight":500,"color":"#ccccdc"},"encoding":{"text":{"field":"label"}}},
{"width":122,"height":32,"view":{"fill":"#111217","stroke":"#34373d","cornerRadius":4},"data":{"values":[{"label":"prometheus\u00a0\u00a0\u00a0\u2304"}]},"mark":{"type":"text","fontSize":14,"color":"#ccccdc"},"encoding":{"text":{"field":"label"}}},
{"width":10,"height":32,"data":{"values":[]},"mark":"rect","view":{"fill":null,"stroke":null}},
{"width":52,"height":32,"view":{"fill":"#1b1e23","stroke":"#34373d","cornerRadius":4},"data":{"values":[{"label":"Origin"}]},"mark":{"type":"text","fontSize":12,"fontWeight":500,"color":"#ccccdc"},"encoding":{"text":{"field":"label"}}},
{"width":115,"height":32,"view":{"fill":"#111217","stroke":"#34373d","cornerRadius":4},"layer":[
{"data":{"values":[{"chip":"All"}]},"mark":{"type":"rect","color":"#22252b","cornerRadius":3},"encoding":{"x":{"datum":0,"type":"quantitative","axis":null,"scale":{"domain":[0,1],"range":[13.6,58]}},"x2":{"datum":1},"y":{"datum":0,"type":"quantitative","axis":null,"scale":{"domain":[0,1],"range":[7,25]}},"y2":{"datum":1}}},
{"data":{"values":[{"label":"All \u00d7"}]},"mark":{"type":"text","fontSize":12,"color":"#ccccdc","dx":-21.5},"encoding":{"text":{"field":"label"}}},
{"data":{"values":[{"label":"\u00d7\u00a0\u00a0\u2304"}]},"mark":{"type":"text","fontSize":13,"color":"#b5b6c3","dx":32},"encoding":{"text":{"field":"label"}}}
]},
{"width":1237,"height":32,"data":{"values":[]},"mark":"rect","view":{"fill":null,"stroke":null}},
{"width":34,"height":32,"view":{"fill":"#23262c","stroke":"#34373d","cornerRadius":4},"data":{"values":[{"label":"\u00ab"}]},"mark":{"type":"text","fontSize":16,"color":"#ccccdc"},"encoding":{"text":{"field":"label"}}},
{"width":148.6,"height":32,"view":{"fill":"#23262c","stroke":"#34373d","cornerRadius":0},"data":{"values":[{"label":"\u25f7\u00a0\u00a0Last 7 days\u00a0\u00a0\u2304"}]},"mark":{"type":"text","fontSize":14,"fontWeight":500,"color":"#ccccdc"},"encoding":{"text":{"field":"label"}}},
{"width":33,"height":32,"view":{"fill":"#23262c","stroke":"#34373d","cornerRadius":0},"data":{"values":[{"label":"\u00bb"}]},"mark":{"type":"text","fontSize":16,"color":"#ccccdc"},"encoding":{"text":{"field":"label"}}},
{"width":35,"height":32,"view":{"fill":"#23262c","stroke":"#34373d","cornerRadius":4},"data":{"values":[{"label":"\u2296"}]},"mark":{"type":"text","fontSize":13,"color":"#ccccdc"},"encoding":{"text":{"field":"label"}}},
{"width":9.4,"height":32,"data":{"values":[]},"mark":"rect","view":{"fill":null,"stroke":null}},
{"width":96,"height":32,"view":{"fill":"#23262c","stroke":"#34373d","cornerRadius":4},"data":{"values":[{"label":"\u21bb\u00a0\u00a0Refresh"}]},"mark":{"type":"text","fontSize":14,"fontWeight":500,"color":"#ccccdc"},"encoding":{"text":{"field":"label"}}},
{"width":56.5,"height":32,"view":{"fill":"#23262c","stroke":"#34373d","cornerRadius":4},"data":{"values":[{"label":"1m\u00a0\u2304"}]},"mark":{"type":"text","fontSize":14,"fontWeight":500,"color":"#ccccdc"},"encoding":{"text":{"field":"label"}}},
{"width":8.5,"height":32,"data":{"values":[]},"mark":"rect","view":{"fill":null,"stroke":null}},
{"width":36,"height":32,"view":{"fill":"#23262c","stroke":"#34373d","cornerRadius":4},"data":{"values":[{"label":"\u260d"}]},"mark":{"type":"text","fontSize":15,"color":"#ccccdc"},"encoding":{"text":{"field":"label"}}},
{"width":35.6,"height":32,"view":{"fill":"#23262c","stroke":"#34373d","cornerRadius":4},"data":{"values":[{"label":"\u2304"}]},"mark":{"type":"text","fontSize":14,"color":"#ccccdc"},"encoding":{"text":{"field":"label"}}},
{"width":8.4,"height":32,"data":{"values":[]},"mark":"rect","view":{"fill":null,"stroke":null}},
{"width":19,"height":32,"view":{"fill":"#23262c","stroke":"#34373d","cornerRadius":4},"data":{"values":[{"label":"\u270e"}]},"mark":{"type":"text","fontSize":15,"color":"#ccccdc"},"encoding":{"text":{"field":"label"}}}
],"spacing":0,"bounds":"flush"},
{"width":2145,"height":52.3,"data":{"values":[]},"mark":"rect","view":{"fill":null,"stroke":null},"title":{"text":"\u2304\u00a0\u00a0Overview (totals over selected range)","fontSize":16,"offset":-38,"dx":3}},
{"hconcat":[
{"width":8,"height":142.6,"data":{"values":[]},"mark":"rect","view":{"fill":null,"stroke":null}},
{"width":1,"height":142.6,"data":{"values":[]},"mark":"rect","view":{"fill":"#22252b","stroke":null,"cornerRadius":0}},
{"width":14.6,"height":142.6,"data":{"values":[]},"mark":"rect","view":{"fill":null,"stroke":null}},
{"hconcat":[
{"width":521.7,"height":142.6,"title":{"text":"Ingested\u00a0\u00a0\u00a0\u24d8","offset":-28.3},"view":{"fill":"#181b1f","stroke":"#2a2d33","cornerRadius":6},"layer":[
{"data":{"values":[{"stat":"9","unit":"K"}]},"mark":{"type":"text","fontSize":64,"fontWeight":500,"color":"#ccccdc","align":"left","baseline":"alphabetic","dx":-38,"dy":46},"encoding":{"text":{"field":"stat"}}},
{"data":{"values":[{"stat":"9","unit":"K"}]},"mark":{"type":"text","fontSize":38,"fontWeight":400,"color":"#ccccdc","align":"left","baseline":"alphabetic","dx":12,"dy":46},"encoding":{"text":{"field":"unit"}}}
]},
{"width":521.7,"height":142.6,"title":{"text":"Scanned\u00a0\u00a0\u00a0\u24d8","offset":-28.3},"view":{"fill":"#181b1f","stroke":"#2a2d33","cornerRadius":6},"layer":[
{"data":{"values":[{"stat":"9","unit":"K"}]},"mark":{"type":"text","fontSize":64,"fontWeight":500,"color":"#ccccdc","align":"left","baseline":"alphabetic","dx":-38,"dy":46},"encoding":{"text":{"field":"stat"}}},
{"data":{"values":[{"stat":"9","unit":"K"}]},"mark":{"type":"text","fontSize":38,"fontWeight":400,"color":"#ccccdc","align":"left","baseline":"alphabetic","dx":12,"dy":46},"encoding":{"text":{"field":"unit"}}}
]},
{"width":521.7,"height":142.6,"title":{"text":"Ingest failures\u00a0\u00a0\u00a0\u24d8","offset":-28.3},"view":{"fill":"#181b1f","stroke":"#2a2d33","cornerRadius":6},"data":{"values":[{"stat":"4"}]},"mark":{"type":"text","fontSize":64,"fontWeight":500,"color":"#F2495C","baseline":"alphabetic","dy":46},"encoding":{"text":{"field":"stat"}}},
{"width":521.7,"height":142.6,"title":{"text":"Scan failures\u00a0\u00a0\u00a0\u24d8","offset":-28.3},"view":{"fill":"#181b1f","stroke":"#2a2d33","cornerRadius":6},"data":{"values":[{"stat":"89"}]},"mark":{"type":"text","fontSize":64,"fontWeight":500,"color":"#F2495C","baseline":"alphabetic","dy":46},"encoding":{"text":{"field":"stat"}}}
],"spacing":9,"bounds":"flush"}
],"spacing":0},
{"width":2145,"height":44,"data":{"values":[]},"mark":"rect","view":{"fill":null,"stroke":null},"title":{"text":"\u2304\u00a0\u00a0New row","fontSize":16,"offset":-31,"dx":3}},
{"hconcat":[
{"width":8,"height":648,"data":{"values":[]},"mark":"rect","view":{"fill":null,"stroke":null}},
{"width":1,"height":648,"data":{"values":[]},"mark":"rect","view":{"fill":"#22252b","stroke":null,"cornerRadius":0}},
{"width":14,"height":648,"data":{"values":[]},"mark":"rect","view":{"fill":null,"stroke":null}},
{"vconcat":[
{"hconcat":[
{"width":699,"height":319,"title":{"text":"Scan duration (avg per bucket)\u00a0\u00a0\u00a0\u24d8","color":"#b4c6e6"},"layer":[
{"data":{"name":"scanP95"},"mark":{"type":"area","color":"#F2CC0C","opacity":0.12,"interpolate":"step-after"},"encoding":{
"x":{"field":"t","type":"temporal","scale":{"type":"utc","domain":[{"year":2025,"month":9,"date":13,"hours":17,"minutes":20,"utc":true},{"year":2025,"month":9,"date":20,"hours":17,"minutes":20,"utc":true}],"range":[74,684]},"axis":{"format":"%m/%d %H:%M","tickCount":{"interval":"day","step":1},"offset":-61,"labelPadding":8}},
"y":{"field":"v","type":"quantitative","scale":{"domain":[0,600],"range":[258,49],"nice":false},"axis":{"values":[0,100,200,300,400,500,600],"labelExpr":"datum.value == 0 ? '0 s' : format(datum.value / 60, '.2~f') + ' mins'","offset":-74,"labelPadding":5}},
"y2":{"datum":0}}},
{"data":{"name":"scanLimits"},"transform":[{"filter":"datum.kind == 'critical'"}],"mark":{"type":"rule","strokeWidth":2,"color":"#b3283c"},"encoding":{
"x":{"field":"from","type":"temporal"},"x2":{"field":"to"},"y":{"field":"limit","type":"quantitative"}}},
{"data":{"name":"scanLimits"},"transform":[{"filter":"datum.kind == 'warning'"}],"mark":{"type":"rule","strokeWidth":2,"color":"#ab8f37"},"encoding":{
"x":{"field":"from","type":"temporal"},"x2":{"field":"to"},"y":{"field":"limit","type":"quantitative"}}},
{"data":{"name":"scanP95"},"mark":{"type":"line","strokeWidth":1.5,"interpolate":"step-after"},"encoding":{
"x":{"field":"t","type":"temporal"},"y":{"field":"v","type":"quantitative"},
"color":{"datum":"p95 (range)","scale":{"domain":["avg","p95 (range)"],"range":["#73BF69","#F2CC0C"]}},
"strokeDash":{"datum":"p95 (range)","scale":{"domain":["avg","p95 (range)"],"range":[[1,0],[7,3]]}}}},
{"data":{"name":"hourly"},"mark":{"type":"line","strokeWidth":1,"point":{"filled":true,"size":36,"opacity":1}},"encoding":{
"x":{"field":"t","type":"temporal"},"y":{"field":"s","type":"quantitative"},
"color":{"datum":"avg","scale":{"domain":["avg","p95 (range)"],"range":["#73BF69","#F2CC0C"]}}}}
]},
{"width":699,"height":319,"title":"Total Bytes Scanned","layer":[
{"data":{"name":"hourly"},"transform":[{"filter":"isValid(datum.b)"}],"mark":{"type":"area","color":"#73BF69","opacity":0.1},"encoding":{
"x":{"field":"t","type":"temporal","scale":{"type":"utc","domain":[{"year":2025,"month":9,"date":13,"hours":17,"minutes":20,"utc":true},{"year":2025,"month":9,"date":20,"hours":17,"minutes":20,"utc":true}],"range":[51,683]},"axis":{"format":"%m/%d %H:%M","tickCount":{"interval":"day","step":1},"offset":-61,"labelPadding":8}},
"y":{"field":"b","type":"quantitative","scale":{"domain":[2.06,12],"range":[262,49],"nice":false,"zero":false},"axis":{"values":[4,6,8,10,12],"labelExpr":"datum.value + ' GB'","offset":-51,"labelPadding":5.5}},
"y2":{"datum":2.06}}},
{"data":{"name":"bytesLimit"},"mark":{"type":"rule","strokeWidth":2,"color":"#b3283c"},"encoding":{
"x":{"field":"from","type":"temporal"},"x2":{"field":"to"},"y":{"field":"limit","type":"quantitative"}}},
{"data":{"name":"hourly"},"transform":[{"filter":"isValid(datum.b)"}],"mark":{"type":"line","strokeWidth":1,"point":{"filled":true,"size":44,"opacity":1}},"encoding":{
"x":{"field":"t","type":"temporal"},"y":{"field":"b","type":"quantitative"},
"color":{"datum":"megabytes","scale":{"domain":["megabytes"],"range":["#73BF69"]}}}}
]},
{"width":699,"height":319,"title":"Avg download size\u00a0\u00a0\u00a0\u24d8","data":{"name":"hourly"},"mark":{"type":"line","strokeWidth":1,"point":{"filled":true,"size":36,"opacity":1}},"encoding":{
"x":{"field":"t","type":"temporal","scale":{"type":"utc","domain":[{"year":2025,"month":9,"date":13,"hours":17,"minutes":20,"utc":true},{"year":2025,"month":9,"date":20,"hours":17,"minutes":20,"utc":true}],"range":[58.5,683.5]},"axis":{"format":"%m/%d %H:%M","tickCount":{"interval":"day","step":1},"offset":-61,"labelPadding":8}},
"y":{"field":"m","type":"quantitative","scale":{"domain":[0,73.66],"range":[258,49],"nice":false},"axis":{"values":[0,16,32,48,64],"labelExpr":"datum.value == 0 ? '0 B' : datum.value + ' MiB'","offset":-58.5,"labelPadding":4.5}},
"color":{"datum":"avg size","scale":{"domain":["avg size"],"range":["#73BF69"]}}}}
],"spacing":9,"bounds":"flush","resolve":{"scale":{"color":"independent","strokeDash":"independent"},"legend":{"color":"independent","strokeDash":"independent"}}},
{"hconcat":[
{"width":699,"height":320,"title":"Download duration (avg per bucket)\u00a0\u00a0\u00a0\u24d8","layer":[
{"data":{"name":"downloadP95"},"mark":{"type":"area","color":"#F2CC0C","opacity":0.12,"interpolate":"step-after"},"encoding":{
"x":{"field":"t","type":"temporal","scale":{"type":"utc","domain":[{"year":2025,"month":9,"date":13,"hours":17,"minutes":20,"utc":true},{"year":2025,"month":9,"date":20,"hours":17,"minutes":20,"utc":true}],"range":[50.5,683.5]},"axis":{"format":"%m/%d %H:%M","tickCount":{"interval":"day","step":1},"offset":-62,"labelPadding":8}},
"y":{"field":"v","type":"quantitative","scale":{"domain":[0,14],"range":[258,49],"nice":false},"axis":{"values":[0,2.5,5,7.5,10,12.5],"labelExpr":"datum.value + ' s'","offset":-50.5,"labelPadding":5}},
"y2":{"datum":0}}},
{"data":{"name":"downloadP95"},"mark":{"type":"line","strokeWidth":1.5,"interpolate":"step-after"},"encoding":{
"x":{"field":"t","type":"temporal"},"y":{"field":"v","type":"quantitative"},
"color":{"datum":"p95 (range)","scale":{"domain":["avg","p95 (range)"],"range":["#73BF69","#F2CC0C"]}},
"strokeDash":{"datum":"p95 (range)","scale":{"domain":["avg","p95 (range)"],"range":[[1,0],[7,3]]}}}},
{"data":{"name":"hourly"},"mark":{"type":"line","strokeWidth":1,"point":{"filled":true,"size":36,"opacity":1}},"encoding":{
"x":{"field":"t","type":"temporal"},"y":{"field":"d","type":"quantitative"},
"color":{"datum":"avg","scale":{"domain":["avg","p95 (range)"],"range":["#73BF69","#F2CC0C"]}}}}
]},
{"width":699,"height":320,"title":"Scan Jobs in SQS\u00a0\u00a0\u00a0\u24d8","data":{"name":"jobs"},"mark":{"type":"line","strokeWidth":1},"encoding":{
"x":{"field":"t","type":"temporal","scale":{"type":"utc","domain":[{"year":2025,"month":9,"date":13,"hours":17,"minutes":20,"utc":true},{"year":2025,"month":9,"date":20,"hours":17,"minutes":20,"utc":true}],"range":[36,683]},"axis":{"format":"%m/%d %H:%M","tickCount":{"interval":"day","step":1},"offset":-62,"labelPadding":8}},
"y":{"field":"v","type":"quantitative","scale":{"domain":[0,1.804],"range":[258.3,49],"nice":false},"axis":{"values":[0,0.5,1,1.5],"labelExpr":"datum.value + ''","offset":-36,"labelPadding":5}},
"color":{"datum":"ApproximateNumberOfMessagesVisible","scale":{"domain":["ApproximateNumberOfMessagesVisible"],"range":["#73BF69"]}}}},
{"width":699,"height":320,"title":"SQS Scan Queue Age of Oldes Message\u00a0\u00a0\u00a0\u24d8","layer":[
{"data":{"values":[{"stat":"1.07","unit":"s"}]},"mark":{"type":"text","fontSize":96,"fontWeight":500,"color":"#73BF69","align":"left","baseline":"alphabetic","dx":-114,"dy":55},"encoding":{"text":{"field":"stat"}}},
{"data":{"values":[{"stat":"1.07","unit":"s"}]},"mark":{"type":"text","fontSize":58,"fontWeight":500,"color":"#73BF69","align":"left","baseline":"alphabetic","dx":83,"dy":55},"encoding":{"text":{"field":"unit"}}},
{"data":{"name":"queueAge"},"mark":{"type":"area","color":"#73BF69","opacity":0.15},"encoding":{
"x":{"field":"t","type":"temporal","axis":null,"scale":{"type":"utc","domain":[{"year":2025,"month":9,"date":13,"hours":17,"minutes":20,"utc":true},{"year":2025,"month":9,"date":20,"hours":17,"minutes":20,"utc":true}],"range":[7,694.7]}},
"y":{"field":"v","type":"quantitative","axis":null,"scale":{"domain":[0,319],"range":[319,0],"nice":false}},
"y2":{"datum":0}}},
{"data":{"name":"queueAge"},"mark":{"type":"line","strokeWidth":1,"color":"#73BF69"},"encoding":{
"x":{"field":"t","type":"temporal"},"y":{"field":"v","type":"quantitative"}}}
]}
],"spacing":9,"bounds":"flush","resolve":{"scale":{"color":"independent","strokeDash":"independent"},"legend":{"color":"independent","strokeDash":"independent"}}}
],"spacing":6.5,"resolve":{"scale":{"color":"independent","strokeDash":"independent"},"legend":{"color":"independent","strokeDash":"independent"}}}
],"spacing":0,"resolve":{"scale":{"color":"independent","strokeDash":"independent"},"legend":{"color":"independent","strokeDash":"independent"}}},
{"width":2145,"height":24,"view":{"fill":null,"stroke":null},"data":{"values":[{"label":"\u203a\u00a0\u00a0Ingest stage (producer)"}]},"mark":{"type":"text","clip":true,"fontSize":16,"fontWeight":500,"color":"#ccccdc","align":"left","dx":-1064,"dy":10},"encoding":{"text":{"field":"label"}}}
],
"spacing":0
}
